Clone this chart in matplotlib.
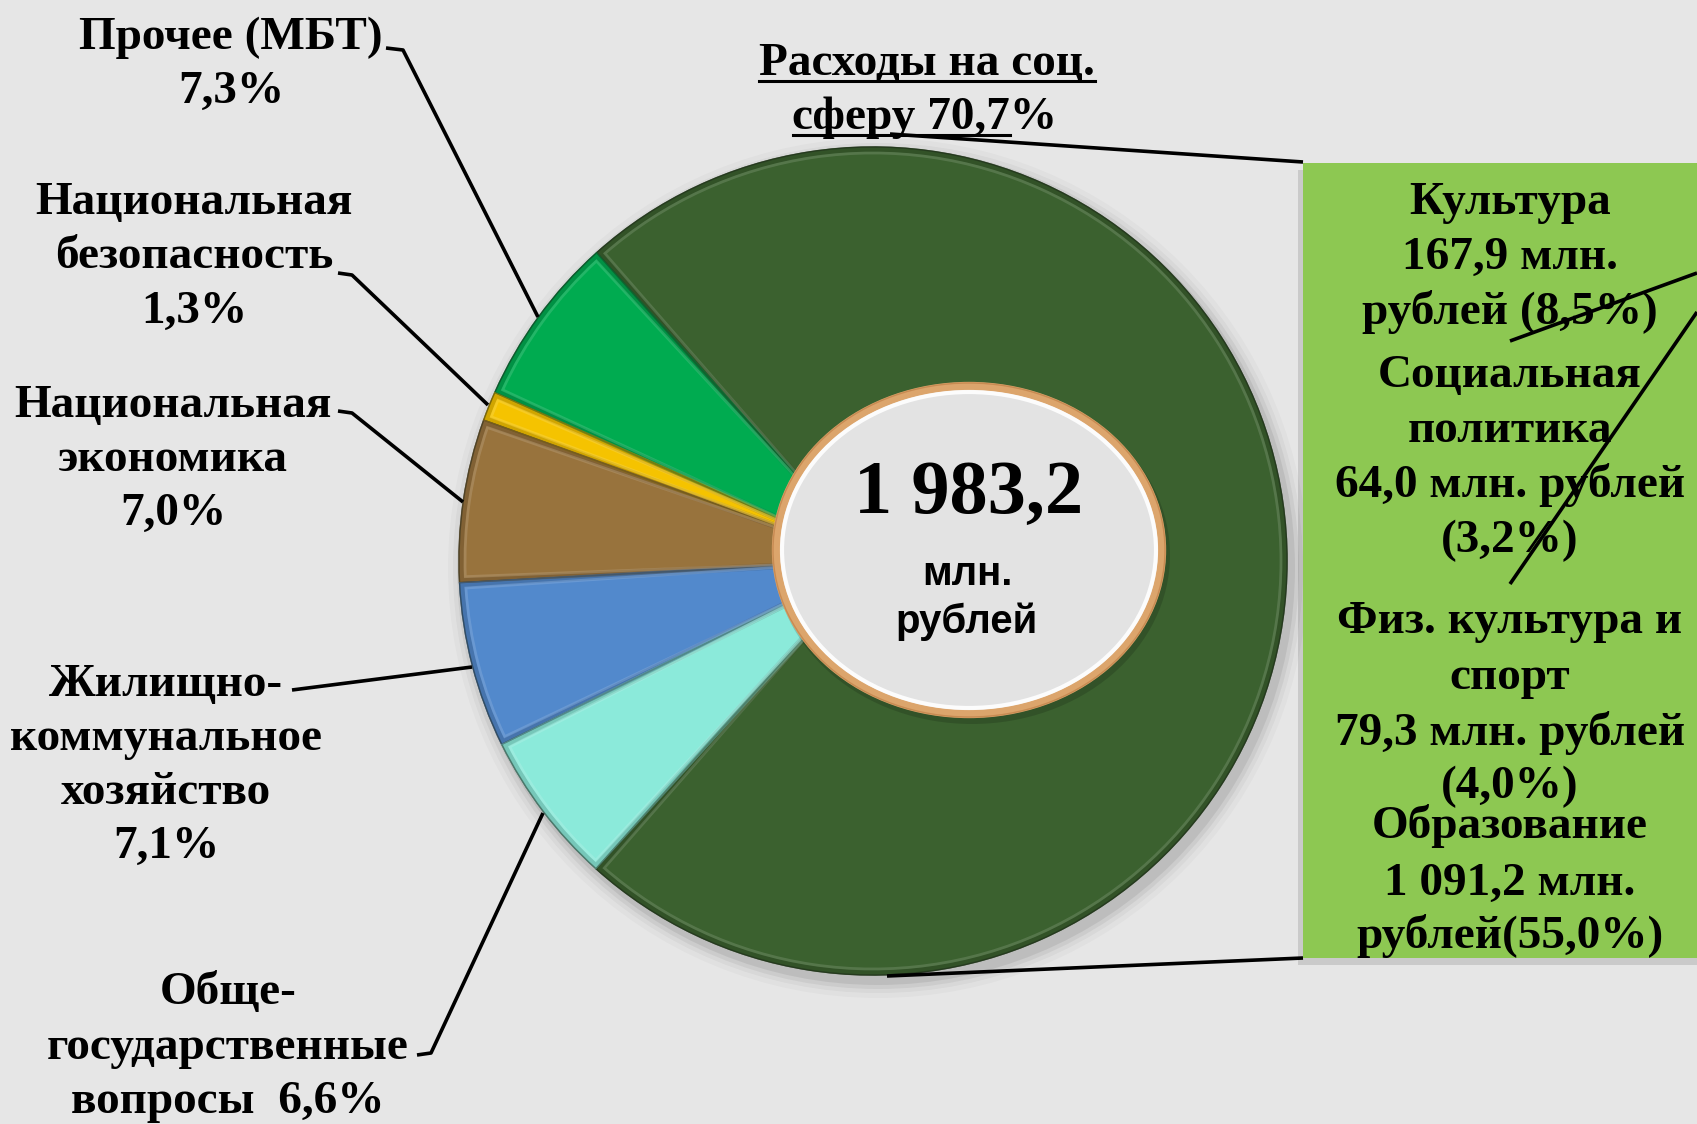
import matplotlib
matplotlib.use('Agg')
import matplotlib.pyplot as plt
from matplotlib.patches import Ellipse, Rectangle, Wedge, Circle
import matplotlib.colors as mcolors
import numpy as np

W, H = 1697, 1124

# ---------------- data ----------------
categories = ['Расходы на соц. сферу', 'Прочее (МБТ)', 'Национальная безопасность',
              'Национальная экономика', 'Жилищно-коммунальное хозяйство',
              'Общегосударственные вопросы']
label_pct = [70.7, 7.3, 1.3, 7.0, 7.1, 6.6]          # percentages printed on labels
slice_share = [73.3, 6.7, 1.14, 6.36, 6.47, 6.03]     # slice sizes as drawn in the picture
colors = ['#3b612f', '#00ab50', '#f5c300', '#98733d', '#5289cc', '#8beada']
total_text = '1 983,2'
social_items = [['Культура'], ['Социальная', 'политика'], ['Физ. культура и', 'спорт'], ['Образование']]
social_mln = ['167,9', '64,0', '79,3', '1 091,2']
social_pct = ['8,5', '3,2', '4,0', '55,0']


def fmt(p):
    return ('%.1f' % p).replace('.', ',') + '%'


fig = plt.figure(figsize=(W / 100, H / 100), dpi=100)
fig.patch.set_facecolor('#e6e6e6')
ax = fig.add_axes([0, 0, 1, 1])


def Y(py):
    return H - py


cx, cy, R = 873, 561, 414

# soft shadow of the pie
for dr, a in [(16, 0.025), (11, 0.035), (7, 0.05), (3, 0.07)]:
    ax.add_patch(Circle((cx + 5, Y(cy + 7)), R + dr, color='black', alpha=a, lw=0, zorder=1))

wedges, _ = ax.pie(slice_share, colors=colors, startangle=-132, counterclock=True,
                   center=(cx, Y(cy)), radius=R,
                   wedgeprops=dict(edgecolor='#1d2618', linewidth=1.0, zorder=2))
ax.set_xlim(0, W)
ax.set_ylim(0, H)
ax.set_aspect('auto')
ax.axis('off')

# bevel shading on each wedge
for w, c in zip(wedges, colors):
    base = np.array(mcolors.to_rgb(c))
    dark = base * 0.75
    light = base + (1 - base) * 0.3
    ax.add_patch(Wedge(w.center, w.r - 2, w.theta1 + 0.3, w.theta2 - 0.3, fill=False,
                       edgecolor=dark, lw=4, alpha=0.6, zorder=2.4))
    ax.add_patch(Wedge(w.center, w.r - 6, w.theta1 + 0.8, w.theta2 - 0.8, fill=False,
                       edgecolor=light, lw=2, alpha=0.45, zorder=2.5))

# central ellipse
ecx, ecy, ew, eh = 969, 550, 386, 328
ax.add_patch(Ellipse((ecx + 3, Y(ecy + 5)), ew + 10, eh + 10, color='black', alpha=0.15, lw=0, zorder=3))
ax.add_patch(Ellipse((ecx, Y(ecy)), ew, eh, facecolor='#e3e3e3', edgecolor='#dca56c', lw=6, zorder=4))
ax.add_patch(Ellipse((ecx, Y(ecy)), ew - 12, eh - 12, fill=False, edgecolor='white', lw=3, alpha=0.9, zorder=4.5))
ax.add_patch(Ellipse((ecx, Y(ecy)), ew + 6, eh + 6, fill=False, edgecolor='#c08048', lw=1, alpha=0.7, zorder=4.6))

ax.text(ecx, Y(513), total_text, ha='center', va='baseline', fontsize=55,
        family='Liberation Serif', weight='bold', zorder=6)
ax.text(ecx - 2, Y(585), 'млн.', ha='center', va='baseline', fontsize=29,
        family='Liberation Sans', weight='bold', zorder=6)
ax.text(ecx - 2, Y(633), 'рублей', ha='center', va='baseline', fontsize=29,
        family='Liberation Sans', weight='bold', zorder=6)

# right box
bx0, by0, by1 = 1303, 163, 958
ax.add_patch(Rectangle((bx0 - 5, Y(by1 + 7)), 500, by1 - by0, color='black', alpha=0.12, lw=0, zorder=4))
ax.add_patch(Rectangle((bx0, Y(by1)), 500, by1 - by0, facecolor='#8dc852', lw=0, zorder=5))

TXT = dict(family='Liberation Serif', weight='bold', fontsize=34, ha='center', va='baseline', zorder=7)

box_lines = []
box_lines += [social_items[0][0], social_mln[0] + ' млн.', 'рублей (' + social_pct[0] + '%)']
box_lines += [social_items[1][0], social_items[1][1], social_mln[1] + ' млн. рублей', '(' + social_pct[1] + '%)']
box_lines += [social_items[2][0], social_items[2][1], social_mln[2] + ' млн. рублей', '(' + social_pct[2] + '%)']
box_lines += [social_items[3][0], social_mln[3] + ' млн.', 'рублей(' + social_pct[3] + '%)']
box_base = [214, 269, 324, 387, 442, 497, 552, 633, 689, 745, 798, 838, 895, 948]
for s, b in zip(box_lines, box_base):
    ax.text(1510, Y(b), s, **TXT)

# left labels
left_lines = [
    (['Прочее (МБТ)', fmt(label_pct[1])], 231, [49, 103]),
    (['Национальная', 'безопасность', fmt(label_pct[2])], 194, [214, 268, 323]),
    (['Национальная', 'экономика', fmt(label_pct[3])], 173, [417, 471, 525]),
    (['Жилищно-', 'коммунальное', 'хозяйство', fmt(label_pct[4])], 166, [696, 750, 804, 858]),
    (['Обще-', 'государственные', 'вопросы  ' + fmt(label_pct[5])], 228, [1004, 1059, 1113]),
]
for lines, x, bases in left_lines:
    for s, b in zip(lines, bases):
        ax.text(x, Y(b), s, **TXT)

# title with underline
t1 = ax.text(927, Y(75), 'Расходы на соц.', **TXT)
t2 = ax.text(925, Y(129), 'сферу ' + fmt(label_pct[0]), **TXT)
fig.canvas.draw()
r = fig.canvas.get_renderer()
b1 = t1.get_window_extent(r)
b2 = t2.get_window_extent(r)
tmp = ax.text(0, 0, 'сферу ' + fmt(label_pct[0])[:-1], **TXT)
wpart = tmp.get_window_extent(r).width
tmp.remove()
ax.plot([b1.x0, b1.x1], [Y(81), Y(81)], color='black', lw=2.2, zorder=7)
ax.plot([b2.x0, b2.x0 + wpart], [Y(135), Y(135)], color='black', lw=2.2, zorder=7)

# leader lines
LW = dict(color='black', lw=2.6, zorder=8, solid_capstyle='butt')
leaders = [
    [(386, 48), (403, 50), (538, 317)],
    [(338, 273), (352, 275), (488, 405)],
    [(338, 411), (352, 413), (463, 502)],
    [(292, 690), (472, 667)],
    [(417, 1055), (431, 1053), (543, 813)],
    [(890, 134), (1303, 162)],
    [(887, 976), (1303, 958)],
    [(1697, 273), (1510, 341)],
    [(1697, 312), (1510, 584)],
]
for pts in leaders:
    xs = [p[0] for p in pts]
    ys = [Y(p[1]) for p in pts]
    ax.plot(xs, ys, **LW)

fig.savefig('out.png', dpi=100, facecolor=fig.get_facecolor())
